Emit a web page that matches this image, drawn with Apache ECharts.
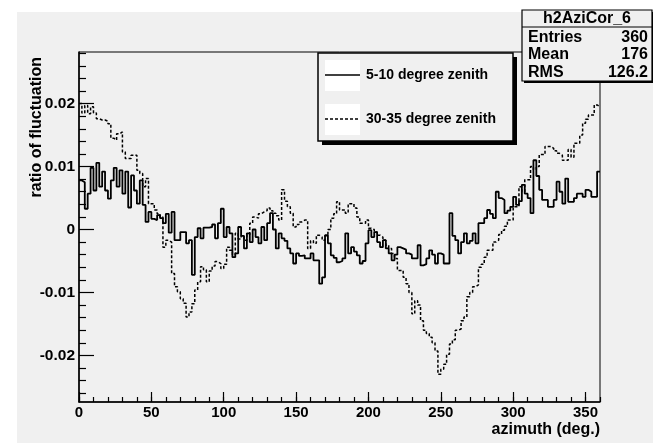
<!DOCTYPE html>
<html><head><meta charset="utf-8">
<script src="https://cdn.jsdelivr.net/npm/echarts@6/dist/echarts.min.js"></script>
<style>html,body{margin:0;padding:0;background:#fff}#c{width:653px;height:443px}</style>
</head><body><div id="c"></div>
<script>
// ---- data (2-degree bins) ----
const binWidth = 2;
const seriesNames = ['5-10 degree zenith', '30-35 degree zenith'];
const solid = [
  0.0078, 0.0075, 0.0033, 0.0057, 0.0098, 0.0062, 0.0106, 0.0068, 0.0092, 0.0062,
  0.0049, 0.0078, 0.0098, 0.0068, 0.0094, 0.0057, 0.0092, 0.0035, 0.0086, 0.0062,
  0.0041, 0.0078, 0.0039, 0.0012, 0.0028, 0.0017, 0.0015, 0.0023, 0.0018, 0.0010,
  0.0025, -0.0005, 0.0028, -0.0017, -0.0017, -0.0004, -0.0004, -0.0022, -0.0017, -0.0072,
  -0.0012, 0.0002, -0.0014, 0.0003, 0.0003, 0.0004, 0.0008, -0.0014, 0.0010, 0.0033,
  -0.0012, 0.0004, -0.0006, -0.0044, -0.0038, 0.0004, -0.0010, -0.0030, -0.0006, -0.0020,
  0.0000, -0.0012, -0.0022, 0.0004, -0.0017, 0.0010, 0.0026, 0.0000, -0.0030, -0.0006,
  -0.0014, -0.0018, -0.0030, -0.0038, -0.0054, -0.0038, -0.0042, -0.0041, -0.0046, -0.0046,
  -0.0038, -0.0049, -0.0049, -0.0086, -0.0076, -0.0009, -0.0022, -0.0041, -0.0045, -0.0052,
  -0.0050, -0.0046, -0.0006, -0.0038, -0.0028, -0.0035, -0.0041, -0.0054, -0.0050, -0.0022,
  -0.0001, -0.0012, -0.0004, -0.0020, -0.0028, -0.0017, -0.0030, -0.0038, -0.0049, -0.0040,
  -0.0028, -0.0030, -0.0032, -0.0038, -0.0040, -0.0046, -0.0046, -0.0025, -0.0057, -0.0055,
  -0.0046, -0.0033, -0.0040, -0.0054, -0.0038, -0.0040, -0.0054, -0.0054, 0.0026, -0.0010,
  -0.0017, -0.0038, -0.0020, -0.0006, -0.0022, -0.0018, -0.0006, -0.0022, 0.0010, 0.0010,
  0.0018, 0.0031, 0.0025, 0.0018, 0.0060, 0.0050, 0.0047, 0.0026, 0.0030, 0.0036,
  0.0052, 0.0039, 0.0045, 0.0071, 0.0057, 0.0050, 0.0026, 0.0110, 0.0085, 0.0063,
  0.0047, 0.0047, 0.0036, 0.0036, 0.0047, 0.0076, 0.0060, 0.0041, 0.0081, 0.0044,
  0.0044, 0.0050, 0.0057, 0.0057, 0.0052, 0.0063, 0.0060, 0.0052, 0.0052, 0.0092
];
const dashed = [
  0.0200, 0.0185, 0.0197, 0.0184, 0.0195, 0.0185, 0.0176, 0.0174, 0.0174, 0.0172,
  0.0168, 0.0145, 0.0142, 0.0152, 0.0155, 0.0123, 0.0113, 0.0113, 0.0118, 0.0118,
  0.0094, 0.0089, 0.0068, 0.0081, 0.0041, 0.0041, 0.0031, 0.0025, 0.0020, -0.0028,
  -0.0017, -0.0020, -0.0070, -0.0091, -0.0099, -0.0110, -0.0117, -0.0139, -0.0131, -0.0118,
  -0.0096, -0.0083, -0.0059, -0.0064, -0.0083, -0.0066, -0.0058, -0.0051, -0.0054, -0.0062,
  -0.0055, -0.0028, -0.0033, -0.0040, -0.0006, -0.0015, -0.0010, -0.0017, -0.0008, 0.0010,
  0.0020, 0.0018, 0.0025, 0.0028, 0.0030, 0.0034, 0.0030, 0.0026, 0.0022, 0.0015,
  0.0063, 0.0045, 0.0036, 0.0026, 0.0004, 0.0008, 0.0012, 0.0015, 0.0015, -0.0030,
  -0.0018, -0.0022, -0.0009, -0.0012, -0.0017, -0.0010, 0.0000, 0.0018, 0.0025, 0.0044,
  0.0031, 0.0031, 0.0026, 0.0041, 0.0041, 0.0034, 0.0020, 0.0010, 0.0010, 0.0015,
  0.0002, 0.0000, -0.0004, -0.0009, -0.0012, -0.0017, -0.0025, -0.0030, -0.0038, -0.0046,
  -0.0065, -0.0065, -0.0076, -0.0086, -0.0100, -0.0134, -0.0113, -0.0120, -0.0145, -0.0160,
  -0.0165, -0.0171, -0.0180, -0.0193, -0.0230, -0.0222, -0.0214, -0.0198, -0.0182, -0.0175,
  -0.0160, -0.0158, -0.0145, -0.0139, -0.0107, -0.0100, -0.0091, -0.0088, -0.0060, -0.0055,
  -0.0044, -0.0033, -0.0033, -0.0020, -0.0017, -0.0008, -0.0001, 0.0005, 0.0015, 0.0015,
  0.0036, 0.0036, 0.0068, 0.0060, 0.0079, 0.0079, 0.0100, 0.0095, 0.0100, 0.0119,
  0.0119, 0.0132, 0.0132, 0.0129, 0.0125, 0.0121, 0.0118, 0.0110, 0.0110, 0.0127,
  0.0115, 0.0137, 0.0137, 0.0150, 0.0169, 0.0175, 0.0182, 0.0182, 0.0198, 0.0195
];
const xMajorTicks = [0, 50, 100, 150, 200, 250, 300, 350];
const xMinorTicks = [0,10,20,30,40,50,60,70,80,90,100,110,120,130,140,150,160,170,180,190,200,210,220,230,240,250,260,270,280,290,300,310,320,330,340,350,360];
const yMajorTicks = [-0.02, -0.01, 0, 0.01, 0.02];
const yMinorTicks = [-0.026,-0.024,-0.022,-0.018,-0.016,-0.014,-0.012,-0.008,-0.006,-0.004,-0.002,0.002,0.004,0.006,0.008,0.012,0.014,0.016,0.018,0.022,0.024,0.026,0.028];
const statTitle = 'h2AziCor_6';
const statRows = [['Entries', '360'], ['Mean', '176'], ['RMS', '126.2']];
const xTitle = 'azimuth (deg.)';
const yTitle = 'ratio of fluctuation';

// ---- chart ----
const FONT = '"Liberation Sans", Arial, sans-serif';
const BG = '#f0f0f0';
function hist(vals) {
  const d = vals.map((v, i) => [i * binWidth, v]);
  d.push([vals.length * binWidth, vals[vals.length - 1]]);
  return d;
}
const X0 = 0, X1 = 360, Y0 = -0.0274, Y1 = 0.0282;
const tickStyle = { color: '#000', width: 1.2 };
const chart = echarts.init(document.getElementById('c'), null, { renderer: 'canvas' });
const txt = (text, x, y, size, align) => ({ type: 'text', z: 13,
  style: { text, x, y, fill: '#000', font: 'bold ' + size + 'px ' + FONT, align, verticalAlign: 'middle' } });
const statGraphics = [];
statRows.forEach((r, i) => {
  statGraphics.push(txt(r[0], 528, 37.5 + i * 17.5, 16, 'left'));
  statGraphics.push(txt(r[1], 648, 37.5 + i * 17.5, 16, 'right'));
});
const legendY = [75, 119];
const legendGraphics = [];
seriesNames.forEach((n, i) => {
  legendGraphics.push({ type: 'rect', z: 12, shape: { x: 325, y: legendY[i] - 15, width: 35, height: 31 }, style: { fill: '#fff' } });
  legendGraphics.push({ type: 'line', z: 13, shape: { x1: 325, y1: legendY[i], x2: 360, y2: legendY[i] },
    style: { stroke: '#000', lineWidth: 1.3, lineDash: i === 0 ? null : [3, 2] } });
  legendGraphics.push(txt(n, 366, legendY[i], 14, 'left'));
});
chart.setOption({
  animation: false,
  backgroundColor: BG,
  color: ['#000', '#000'],
  grid: { left: 79, right: 53, top: 52, bottom: 41, show: true, borderColor: '#000', borderWidth: 1, backgroundColor: 'transparent' },
  xAxis: [
    { type: 'value', min: X0, max: X1, position: 'bottom',
      axisLine: { show: true, onZero: false, lineStyle: { color: '#000', width: 1.5 } },
      axisTick: { show: true, inside: true, length: 10, customValues: xMajorTicks, lineStyle: tickStyle },
      axisLabel: { show: true, customValues: xMajorTicks, color: '#000', fontFamily: FONT, fontWeight: 'bold', fontSize: 15, margin: 3 },
      splitLine: { show: false } },
    { type: 'value', min: X0, max: X1, position: 'bottom',
      axisLine: { show: false, onZero: false },
      axisTick: { show: true, inside: true, length: 5, customValues: xMinorTicks, lineStyle: tickStyle },
      axisLabel: { show: false }, splitLine: { show: false } }
  ],
  yAxis: [
    { type: 'value', min: Y0, max: Y1, position: 'left',
      axisLine: { show: true, onZero: false, lineStyle: { color: '#000', width: 1.5 } },
      axisTick: { show: true, inside: true, length: 15, customValues: yMajorTicks, lineStyle: tickStyle },
      axisLabel: { show: true, customValues: yMajorTicks, color: '#000', fontFamily: FONT, fontWeight: 'bold', fontSize: 15.5, margin: 4,
        formatter: v => (Math.abs(v) < 1e-9 ? '0' : v.toFixed(2)) },
      splitLine: { show: false } },
    { type: 'value', min: Y0, max: Y1, position: 'left',
      axisLine: { show: false, onZero: false },
      axisTick: { show: true, inside: true, length: 7, customValues: yMinorTicks, lineStyle: tickStyle },
      axisLabel: { show: false }, splitLine: { show: false } }
  ],
  series: [
    { type: 'line', name: seriesNames[0], xAxisIndex: 0, yAxisIndex: 0, data: hist(solid), step: 'end',
      symbol: 'none', showSymbol: false, lineStyle: { color: '#000', width: 1.8 }, z: 3 },
    { type: 'line', name: seriesNames[1], xAxisIndex: 0, yAxisIndex: 0, data: hist(dashed), step: 'end',
      symbol: 'none', showSymbol: false, lineStyle: { color: '#000', width: 1.5, type: [3, 2] }, z: 3 }
  ],
  graphic: [
    { type: 'rect', z: -10, silent: true, shape: { x: 0, y: 0, width: 653, height: 12 }, style: { fill: '#fff' } },
    { type: 'rect', z: -10, silent: true, shape: { x: 0, y: 0, width: 17, height: 443 }, style: { fill: '#fff' } },
    // legend box
    { type: 'rect', z: 10, shape: { x: 322, y: 57, width: 195, height: 88 }, style: { fill: '#000' } },
    { type: 'rect', z: 11, shape: { x: 318, y: 53, width: 195, height: 88 }, style: { fill: BG, stroke: '#000', lineWidth: 1.5 } },
    ...legendGraphics,
    // stat box
    { type: 'rect', z: 10, shape: { x: 524, y: 12, width: 130, height: 71 }, style: { fill: '#000' } },
    { type: 'rect', z: 11, shape: { x: 522, y: 10, width: 130, height: 71 }, style: { fill: BG, stroke: '#000', lineWidth: 1.2 } },
    { type: 'line', z: 12, shape: { x1: 522, y1: 27, x2: 652, y2: 27 }, style: { stroke: '#000', lineWidth: 1.2 } },
    txt(statTitle, 587, 18.5, 16, 'center'),
    ...statGraphics,
    // axis titles
    { type: 'text', z: 13, x: 37, y: 57, rotation: Math.PI / 2, style: { text: yTitle, x: 0, y: 0, fill: '#000', font: 'bold 16px ' + FONT, align: 'right', verticalAlign: 'middle' } },
    txt(xTitle, 600, 430, 16, 'right')
  ]
});
</script></body></html>
